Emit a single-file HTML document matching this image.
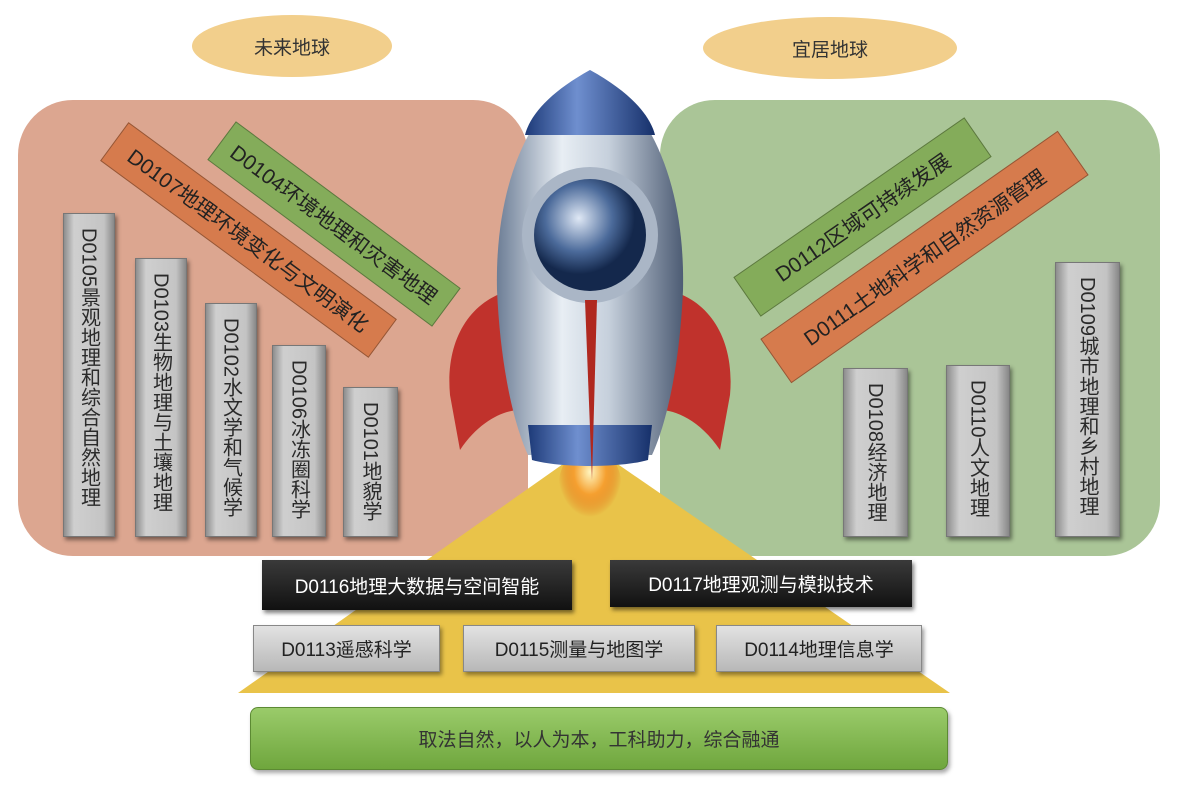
<!DOCTYPE html>
<html><head><meta charset="utf-8"><style>
body{margin:0;width:1182px;height:786px;background:#fff;position:relative;overflow:hidden;font-family:"Liberation Sans","Noto Sans CJK SC",sans-serif}
.a{position:absolute}
.bar{position:absolute;box-sizing:border-box;background:linear-gradient(90deg,#8e8e8e,#cfcfcf 20%,#c4c4c4 80%,#888);border:1px solid #777;box-shadow:2px 3px 4px rgba(0,0,0,.45);writing-mode:vertical-rl;font-size:20px;color:#2a2a2a;text-align:start;padding-top:14px;display:flex;align-items:center;letter-spacing:0px}
.ban{position:absolute;box-sizing:border-box;font-size:21px;color:#222;display:flex;align-items:center;justify-content:center;white-space:nowrap;border:1px solid rgba(0,0,0,.3)}
.blk{position:absolute;box-sizing:border-box;background:linear-gradient(#3a3a3a,#111);color:#fff;font-size:19px;display:flex;align-items:center;justify-content:center;box-shadow:2px 3px 4px rgba(0,0,0,.5)}
.gr{position:absolute;box-sizing:border-box;background:linear-gradient(#e2e2e2,#b8b8b8);border:1px solid #888;color:#222;font-size:19px;display:flex;align-items:center;justify-content:center;box-shadow:2px 3px 4px rgba(0,0,0,.4)}
</style></head><body>
<div class="a" style="left:192px;top:15px;width:200px;height:62px;border-radius:50%;background:#f2cf8c;display:flex;align-items:center;justify-content:center;font-size:19px;color:#333">未来地球</div>
<div class="a" style="left:703px;top:17px;width:254px;height:62px;border-radius:50%;background:#f2cf8c;display:flex;align-items:center;justify-content:center;font-size:19px;color:#333">宜居地球</div>
<div class="a" style="left:18px;top:100px;width:510px;height:456px;border-radius:55px;background:#dca690"></div>
<div class="a" style="left:660px;top:100px;width:500px;height:456px;border-radius:55px;background:#aac597"></div>

<div class="ban" style="left:82px;top:216px;width:333px;height:48px;background:#d67b4d;transform:rotate(36.3deg)">D0107地理环境变化与文明演化</div>
<div class="ban" style="left:194px;top:200px;width:280px;height:48px;background:#84ac5a;transform:rotate(36.6deg)">D0104环境地理和灾害地理</div>
<div class="ban" style="left:722px;top:193px;width:281px;height:48px;background:#84ac5a;transform:rotate(-34.7deg)">D0112区域可持续发展</div>
<div class="ban" style="left:743px;top:230px;width:363px;height:54px;background:#d67b4d;transform:rotate(-35deg)">D0111土地科学和自然资源管理</div>

<div class="bar" style="left:63px;top:213px;width:52px;height:324px">D0105景观地理和综合自然地理</div>
<div class="bar" style="left:135px;top:258px;width:52px;height:279px">D0103生物地理与土壤地理</div>
<div class="bar" style="left:205px;top:303px;width:52px;height:234px">D0102水文学和气候学</div>
<div class="bar" style="left:272px;top:345px;width:54px;height:192px">D0106冰冻圈科学</div>
<div class="bar" style="left:343px;top:387px;width:55px;height:150px">D0101地貌学</div>
<div class="bar" style="left:843px;top:368px;width:65px;height:169px">D0108经济地理</div>
<div class="bar" style="left:946px;top:365px;width:64px;height:172px">D0110人文地理</div>
<div class="bar" style="left:1055px;top:262px;width:65px;height:275px">D0109城市地理和乡村地理</div>

<svg class="a" style="left:0;top:0" width="1182" height="786">
<defs>
<linearGradient id="bd" x1="0" x2="1"><stop offset="0" stop-color="#6d7e96"/><stop offset=".35" stop-color="#e8eef4"/><stop offset=".6" stop-color="#c6d0dc"/><stop offset="1" stop-color="#4d5c74"/></linearGradient>
<linearGradient id="ns" x1="0" x2="1"><stop offset="0" stop-color="#1d3a78"/><stop offset=".4" stop-color="#6f8fcf"/><stop offset="1" stop-color="#16306a"/></linearGradient>
<radialGradient id="gl" cx=".4" cy=".35"><stop offset="0" stop-color="#dfe8f5"/><stop offset=".6" stop-color="#4b6a9a"/><stop offset="1" stop-color="#14284c"/></radialGradient>
<radialGradient id="fl" cx=".5" cy=".3"><stop offset="0" stop-color="#fff6c0"/><stop offset=".5" stop-color="#f5a030"/><stop offset="1" stop-color="#e06010" stop-opacity="0"/></radialGradient>
</defs>
<polygon points="590,445 950,693 238,693" fill="#e9c349"/>
<ellipse cx="590" cy="490" rx="32" ry="45" fill="url(#fl)"/>
<path d="M512,290 C470,300 445,340 450,395 L460,450 C480,420 505,410 520,410 Z" fill="#c0322c"/>
<path d="M668,290 C710,300 735,340 730,395 L720,450 C700,420 675,410 660,410 Z" fill="#c0322c"/>
<path d="M590,70 C520,110 495,200 497,290 C500,360 512,420 528,455 L652,455 C668,420 680,360 683,290 C685,200 660,110 590,70 Z" fill="url(#bd)"/>
<path d="M590,70 C550,92 530,115 525,135 L655,135 C650,115 630,92 590,70 Z" fill="url(#ns)"/>
<path d="M528,425 L652,425 L648,460 C620,468 560,468 532,460 Z" fill="url(#ns)"/>
<circle cx="590" cy="235" r="68" fill="#aab6c6"/>
<circle cx="590" cy="235" r="56" fill="url(#gl)"/>
<path d="M585,300 L597,300 L592,480 Z" fill="#b0281f"/>
</svg>

<div class="blk" style="left:262px;top:560px;width:310px;height:50px">D0116地理大数据与空间智能</div>
<div class="blk" style="left:610px;top:560px;width:302px;height:47px">D0117地理观测与模拟技术</div>
<div class="gr" style="left:253px;top:625px;width:187px;height:47px">D0113遥感科学</div>
<div class="gr" style="left:463px;top:625px;width:232px;height:47px">D0115测量与地图学</div>
<div class="gr" style="left:716px;top:625px;width:206px;height:47px">D0114地理信息学</div>
<div class="a" style="left:250px;top:707px;width:698px;height:63px;border-radius:8px;background:linear-gradient(#9acb6a,#6fa63d);border:1px solid #5c8a33;box-sizing:border-box;display:flex;align-items:center;justify-content:center;font-size:19px;color:#333;box-shadow:2px 3px 4px rgba(0,0,0,.35)">取法自然，以人为本，工科助力，综合融通</div>
</body></html>
